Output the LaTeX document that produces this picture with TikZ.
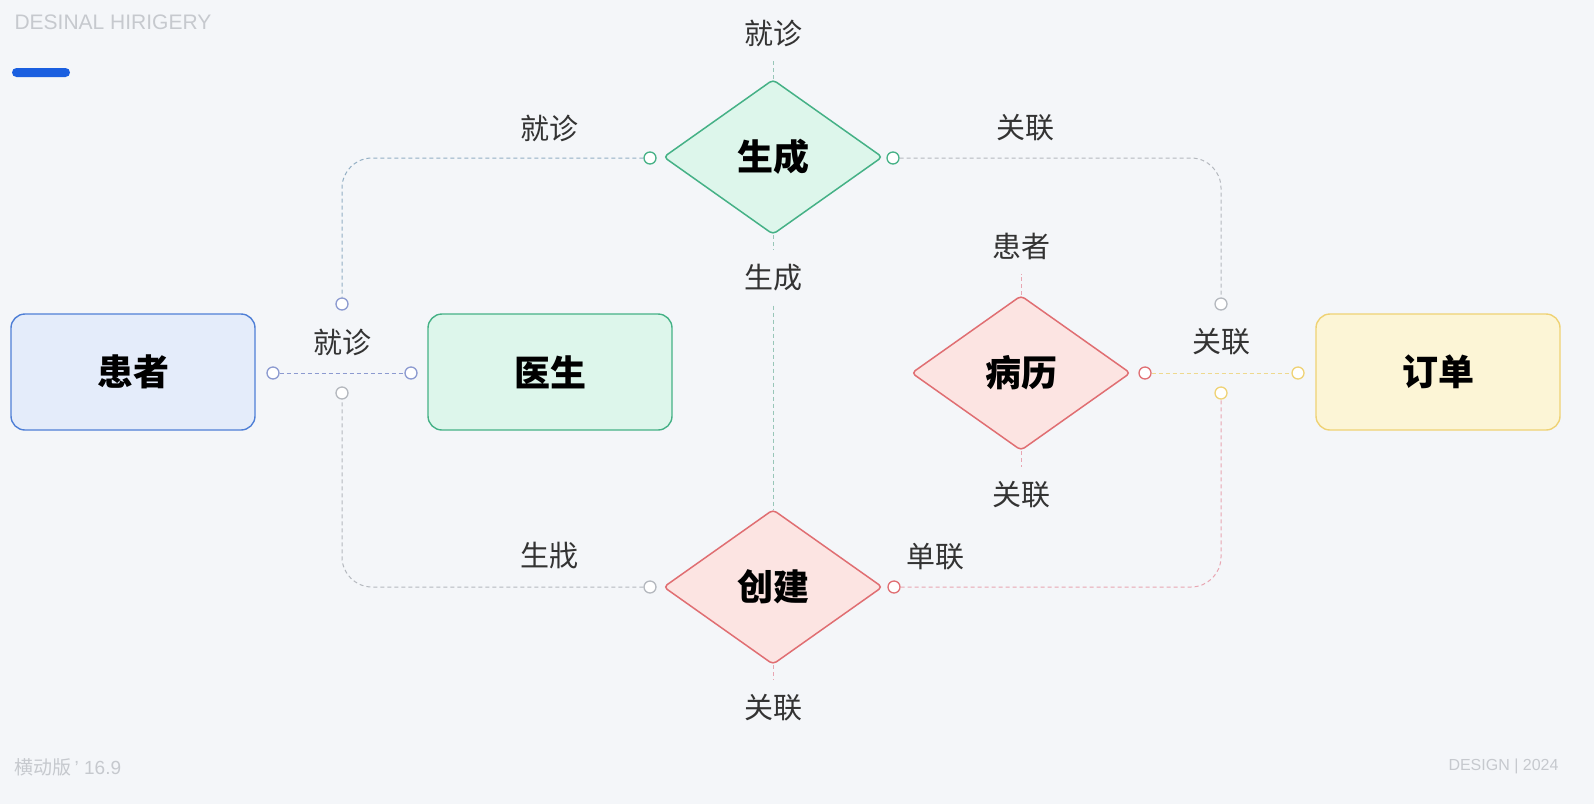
\documentclass[tikz,border=0pt]{standalone}
\usepackage{fontspec}
\setmainfont{Liberation Sans}
\newfontfamily\cjk{Noto Sans CJK SC}
\usepackage{tikz}
\usetikzlibrary{positioning}
\usetikzlibrary{shapes.geometric}

\definecolor{pagebg}{HTML}{F4F6F9}
\definecolor{hdrgray}{HTML}{C6C9CE}
\definecolor{accent}{HTML}{1A5FE0}
\definecolor{tagtext}{HTML}{333333}
\definecolor{bluefill}{HTML}{E4ECFA}
\definecolor{blueline}{HTML}{4F7FD6}
\definecolor{greenfill}{HTML}{DDF6EB}
\definecolor{greenline}{HTML}{45B186}
\definecolor{redfill}{HTML}{FCE4E2}
\definecolor{redline}{HTML}{E06E72}
\definecolor{yellowfill}{HTML}{FCF5D6}
\definecolor{yellowline}{HTML}{EFD274}
\definecolor{lnkblue}{HTML}{8C9AD0}
\definecolor{lnkteal}{HTML}{93AFC4}
\definecolor{lnkgray}{HTML}{B4B8BE}
\definecolor{lnkpink}{HTML}{E8A6B2}
\definecolor{lnkyellow}{HTML}{EED98E}
\definecolor{lnkgreen}{HTML}{98C6B8}

\begin{document}
\begin{tikzpicture}[
	  x=1pt, y=-1pt,
	  entity/.style = {shape=rectangle, rounded corners=14pt, draw, line width=1.4pt, minimum width=244pt, minimum height=116pt, font=\cjk\bfseries\fontsize{36}{40}\selectfont, text=black},
	  relation/.style = {shape=diamond, rounded corners=4pt, draw, line width=1.5pt, minimum width=219pt, minimum height=155pt, inner sep=0pt, font=\cjk\bfseries\fontsize{36}{40}\selectfont, text=black},
	  port/.style = {shape=circle, draw, fill=white, line width=1.3pt, minimum size=12pt, inner sep=0pt},
	  tag/.style = {font=\cjk\fontsize{29}{32}\selectfont, text=tagtext, inner sep=2pt},
	  link/.style = {dashed, dash pattern=on 4pt off 3pt, line width=1pt, rounded corners=30pt},
	  stub/.style = {dashed, dash pattern=on 4pt off 3pt, line width=1pt, shorten >=12pt},
	  faint/.style = {text=hdrgray}
	]

	  \fill[pagebg] (0,0) rectangle (1594,804);
	  \useasboundingbox (0,0) rectangle (1594,804);

	  % header and footer
	  \node[faint, anchor=west, font=\fontsize{21}{22}\selectfont] (title) at (11,22) {DESINAL HIRIGERY};
	  \fill[accent, rounded corners=4.5pt] (12,68) rectangle (70,77);
	  \node[faint, anchor=west, font=\fontsize{19}{20}\selectfont] (foot) at (11,767) {{\cjk 横动版}\,' 16.9};
	  \node[faint, anchor=east, font=\fontsize{16}{17}\selectfont] (brand) at (1562,766) {DESIGN | 2024};

	  % entities
	  \node[entity, draw=blueline, fill=bluefill] (patient) at (133,372) {患者};
	  \node[entity, draw=greenline, fill=greenfill] (doctor) at (550,372) {医生};
	  \node[entity, draw=yellowline, fill=yellowfill] (order) at (1438,372) {订单};

	  % relations
	  \node[relation, draw=greenline, fill=greenfill] (gen) at (773,157) {生成};
	  \node[relation, draw=redline, fill=redfill] (record) at (1021,373) {病历};
	  \node[relation, draw=redline, fill=redfill] (make) at (773,587) {创建};

	  % ports
	  \node[port, draw=lnkblue] (pPatR) at (273,373) {};
	  \node[port, draw=lnkblue] (pDocL) at (411,373) {};
	  \node[port, draw=lnkblue] (pVisitT) at (342,304) {};
	  \node[port, draw=lnkgray] (pVisitB) at (342,393) {};
	  \node[port, draw=greenline] (pGenL) at (650,158) {};
	  \node[port, draw=greenline] (pGenR) at (893,158) {};
	  \node[port, draw=lnkgray] (pMakeL) at (650,587) {};
	  \node[port, draw=redline] (pMakeR) at (894,587) {};
	  \node[port, draw=redline] (pRecR) at (1145,373) {};
	  \node[port, draw=yellowline] (pOrdL) at (1298,373) {};
	  \node[port, draw=lnkgray] (pLinkT) at (1221,304) {};
	  \node[port, draw=yellowline] (pLinkB) at (1221,393) {};

	  % tags
	  \node[tag] (tGenTop) at (773,33) {就诊};
	  \node[tag] (tGenBot) at (773,278) {生成};
	  \node[tag] (tRecTop) at (1021,246) {患者};
	  \node[tag] (tRecBot) at (1021,495) {关联};
	  \node[tag] (tMakeBot) at (773,708) {关联};
	  \node[tag] (tVisitL) at (549,128) {就诊};
	  \node[tag] (tLinkR) at (1025,128) {关联};
	  \node[tag] (tVisit) at (342,342) {就诊};
	  \node[tag] (tLink) at (1221,342) {关联};
	  \node[tag] (tGenL) at (549,555) {生戕};
	  \node[tag] (tUnit) at (935,557) {单联};

	  % connectors
	  \draw[link, draw=lnkblue] (pPatR) -- (pDocL);
	  \draw[link, draw=lnkyellow] (pRecR) -- (pOrdL);
	  \draw[link, draw=lnkteal] (pGenL) -| (pVisitT);
	  \draw[link, draw=lnkgray] (pGenR) -| (pLinkT);
	  \draw[link, draw=lnkgray] (pMakeL) -| (pVisitB);
	  \draw[link, draw=lnkpink] (pMakeR) -| (pLinkB);
	  \draw[stub, draw=lnkgreen] (gen) -- (tGenTop);
	  \draw[stub, draw=lnkgreen] (gen) -- (tGenBot);
	  \draw[link, draw=lnkgreen, shorten <=12pt] (tGenBot) -- (make);
	  \draw[stub, draw=lnkpink] (record) -- (tRecTop);
	  \draw[stub, draw=lnkpink] (record) -- (tRecBot);
	  \draw[stub, draw=lnkpink] (make) -- (tMakeBot);
	\end{tikzpicture}
\end{document}
